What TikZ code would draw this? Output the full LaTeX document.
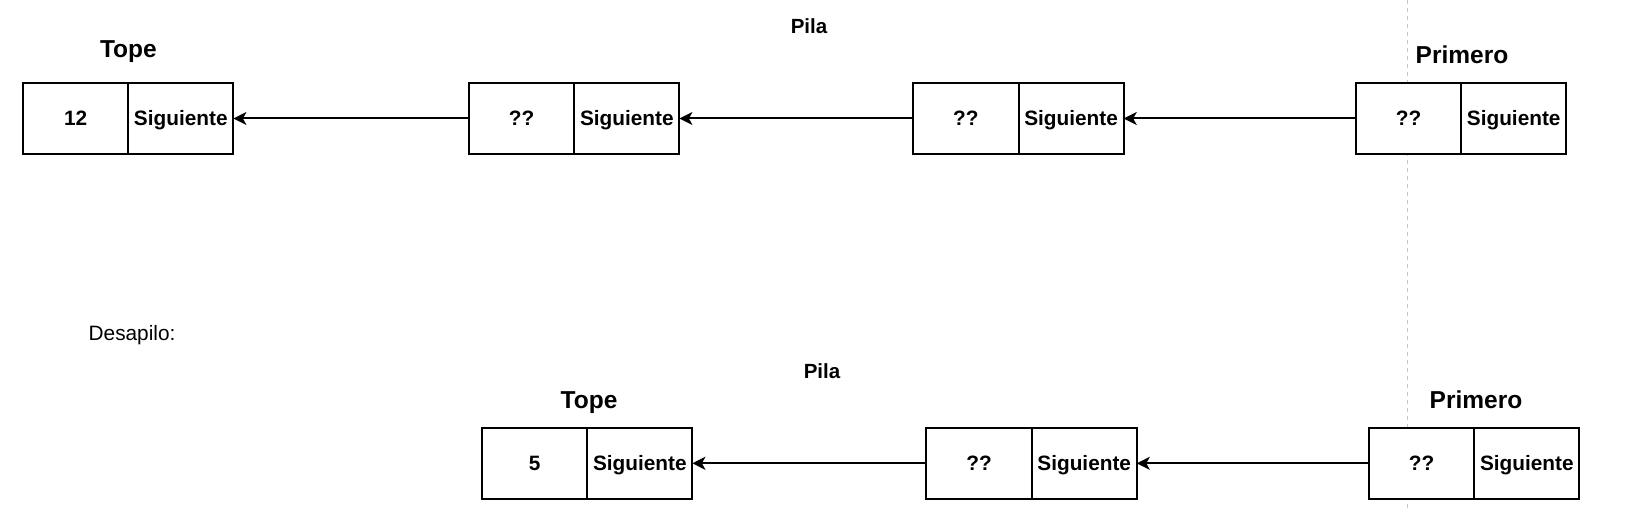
\documentclass[tikz,border=0pt]{standalone}
\usepackage{fontspec}
\setmainfont{Liberation Sans}
\usetikzlibrary{arrows.meta}
\definecolor{guide}{HTML}{C4C4C4}
\tikzset{
  cell/.style={draw=black, fill=white, line width=2pt, minimum width=105.2pt, minimum height=70.4pt,
    inner sep=0pt, outer sep=0pt, text height=14.9pt, text depth=0pt,
    font=\bfseries\fontsize{20.8}{24}\selectfont},
  heading/.style={inner sep=0pt, anchor=base, font=\bfseries\fontsize{24.5}{28}\selectfont},
  title/.style={inner sep=0pt, anchor=base, font=\bfseries\fontsize{20.5}{24}\selectfont},
  plain/.style={inner sep=0pt, anchor=base west, font=\fontsize{20.8}{24}\selectfont},
  arr/.style={line width=2pt, -{Stealth[length=13pt,width=13pt,inset=3.5pt]}},
  guideline/.style={draw=guide, line width=1pt, dash pattern=on 4pt off 4pt}
}
\begin{document}
\begin{tikzpicture}[x=1pt,y=-1pt]
\useasboundingbox (0,0) rectangle (1645,508);
% guide line
\coordinate (gtop) at (1407.5,0);
\coordinate (gbot) at (1407.5,508);
\draw[guideline] (gtop) -- (gbot);
% top row
\node[title] (pila1) at (809,33.3) {Pila};
\node[heading] (tope1) at (128.4,57.3) {Tope};
\node[heading] (prim1) at (1462,63.3) {Primero};
\node[cell] (t1a) at (75.6,118.5) {12};
\node[cell] (t1b) at (180.8,118.5) {Siguiente};
\node[cell] (t2a) at (521.6,118.5) {??};
\node[cell] (t2b) at (626.8,118.5) {Siguiente};
\node[cell] (t3a) at (965.9,118.5) {??};
\node[cell] (t3b) at (1071.1,118.5) {Siguiente};
\node[cell] (t4a) at (1408.5,118.5) {??};
\node[cell] (t4b) at (1513.7,118.5) {Siguiente};
\draw[arr] (t2a.west) -- (t1b.east);
\draw[arr] (t3a.west) -- (t2b.east);
\draw[arr] (t4a.west) -- (t3b.east);
% bottom
\node[plain] (desap) at (88.5,340.7) {Desapilo:};
\node[title] (pila2) at (822,378.3) {Pila};
\node[heading] (tope2) at (589,408.3) {Tope};
\node[heading] (prim2) at (1476,408.3) {Primero};
\node[cell] (b1a) at (534.6,463.3) {5};
\node[cell] (b1b) at (639.8,463.3) {Siguiente};
\node[cell] (b2a) at (979,463.3) {??};
\node[cell] (b2b) at (1084.2,463.3) {Siguiente};
\node[cell] (b3a) at (1421.6,463.3) {??};
\node[cell] (b3b) at (1526.8,463.3) {Siguiente};
\draw[arr] (b2a.west) -- (b1b.east);
\draw[arr] (b3a.west) -- (b2b.east);
\end{tikzpicture}
\end{document}
